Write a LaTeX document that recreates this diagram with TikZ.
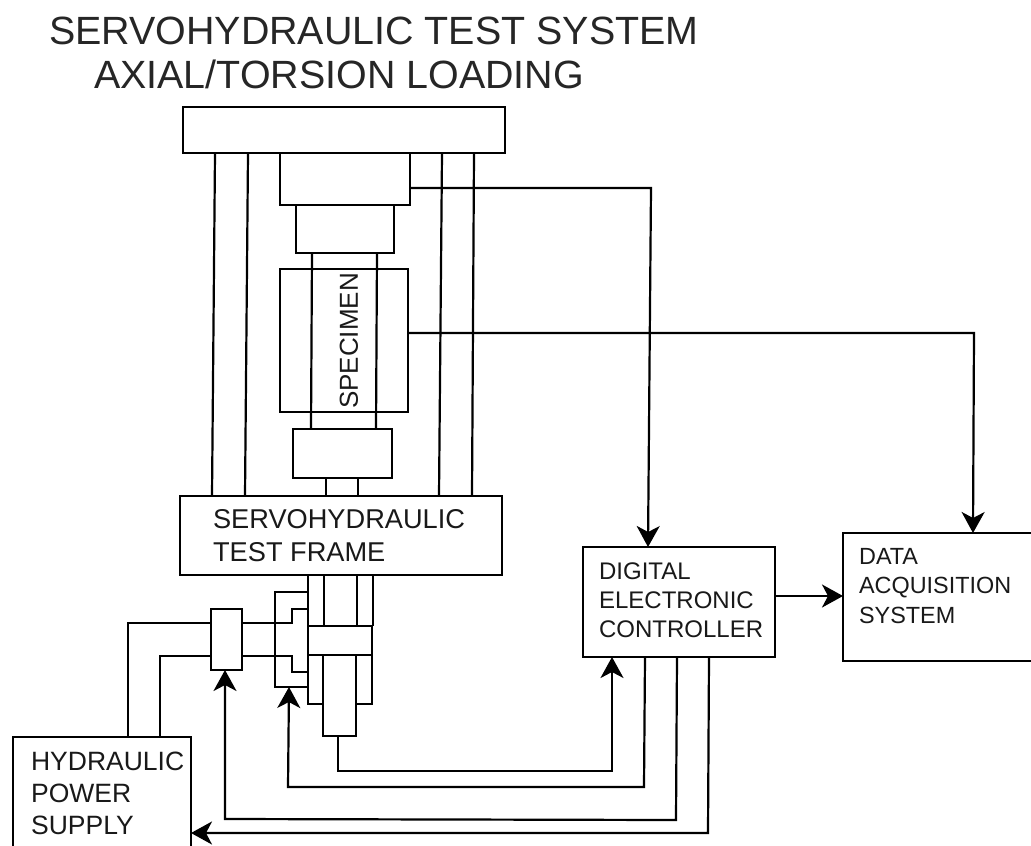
\documentclass[tikz,border=0pt]{standalone}
\usepackage{fontspec}
\setmainfont{Liberation Sans}
\usetikzlibrary{arrows.meta}
\tikzset{
  x=1pt,y=-1pt,
  boxy/.style={draw=black,fill=white,rectangle,inner sep=0pt,outer sep=0pt},
  lab/.style 2 args={anchor=west,align=left,inner sep=0pt,text=black!90,font=\fontsize{#1}{#2}\selectfont},
  sig/.style={draw=black,-{Stealth[length=21pt,width=23pt,inset=6pt]}},
  wire/.style={draw=black},
}
\newcommand{\bx}[5]{\node[boxy,minimum width={#4pt-#2pt},minimum height={#5pt-#3pt}] (#1) at ({(#2+#4)/2},{(#3+#5)/2}) {};}
\begin{document}
\begin{tikzpicture}[line width=2.2pt]
\clip (0,0) rectangle (1031,846);
\fill[white] (0,0) rectangle (1031,846);
% title
\node[lab={39.4}{43},text=black!85] (t1) at (48,31) {SERVOHYDRAULIC TEST SYSTEM};
\node[lab={39.4}{43},text=black!85] (t2) at (93,74) {AXIAL/TORSION LOADING};
% column verticals
\bx{top}{183}{107}{505}{153}
\bx{frame}{180}{496}{502}{575}
\draw[wire] (215,0 |- top.south) -- (212,0 |- frame.north);
\draw[wire] (248,0 |- top.south) -- (245,0 |- frame.north);
\draw[wire] (442,0 |- top.south) -- (439,0 |- frame.north);
\draw[wire] (474,0 |- top.south) -- (472,0 |- frame.north);
% load train
\bx{xh}{280}{153}{410}{205}
\bx{grip}{296}{205}{394}{253}
\bx{spec}{280}{269}{408}{412}
\bx{lowgrip}{293}{429}{392}{478}
\draw[wire] (312,0 |- grip.south) -- (311,0 |- lowgrip.north);
\draw[wire] (377,0 |- grip.south) -- (376,0 |- lowgrip.north);
\draw[wire] (326,0 |- lowgrip.south) -- (326,0 |- frame.north);
\draw[wire] (358,0 |- lowgrip.south) -- (358,0 |- frame.north);
\node[lab={26}{26},rotate=90] (speclab) at (349,410) {SPECIMEN};
% actuator
\bx{piston}{308}{626}{372}{655}
\bx{rodb}{323}{655}{356}{736}
\draw[wire] (308,0 |- frame.south) -- (308,704) -- (323,704);
\draw[wire] (372,0 |- piston.south) -- (372,704) -- (356,704);
\draw[wire] (373,0 |- frame.south) -- (373,0 |- piston.north);
\draw[wire] (324,0 |- frame.south) -- (324,0 |- piston.north);
\draw[wire] (357,0 |- frame.south) -- (357,0 |- piston.north);
% servovalves
\bx{valve}{211}{609}{242}{670}
\draw[wire] (308,592) -- (275,592) -- (275,687) -- (308,687);
\draw[wire] (308,609) -- (292,609) -- (292,623) -- (242,623);
\draw[wire] (308,672) -- (292,672) -- (292,656) -- (242,656);
% boxes
\bx{hps}{13}{737}{191}{850}
\bx{ctl}{583}{547}{775}{657}
\bx{daq}{843}{533}{1040}{661}
% supply lines
\draw[wire] (128,0 |- hps.north) -- (128,623) -- (211,623);
\draw[wire] (160,0 |- hps.north) -- (160,656) -- (211,656);
% signal lines
\draw[sig] (xh.east |- 0,188) -- (651,188) -- (648,0 |- ctl.north);
\draw[sig] (spec.east |- 0,333) -- (974,333) -- (973,0 |- daq.north);
\draw[sig] (ctl.east |- 0,596) -- (daq.west |- 0,596);
\draw[sig] (338,0 |- rodb.south) -- (338,771) -- (612,771) -- (612,0 |- ctl.south);
\draw[sig] (645,0 |- ctl.south) -- (644,787) -- (288,787) -- (289,687);
\draw[sig] (677,0 |- ctl.south) -- (676,820) -- (225,819) -- (225,0 |- valve.south);
\draw[sig] (709,0 |- ctl.south) -- (708,833) -- (hps.east |- 0,833);
% labels
\node[lab={27.2}{33}] (framelab) at (212,536) {SERVOHYDRAULIC\\TEST FRAME};
\node[lab={26.5}{32}] (hpslab) at (30,793) {HYDRAULIC\\POWER\\SUPPLY};
\node[lab={24}{29}] (ctllab) at (598,600) {DIGITAL\\ELECTRONIC\\CONTROLLER};
\node[lab={23.4}{29.5}] (daqlab) at (858,586) {DATA\\ACQUISITION\\SYSTEM};
\end{tikzpicture}
\end{document}
